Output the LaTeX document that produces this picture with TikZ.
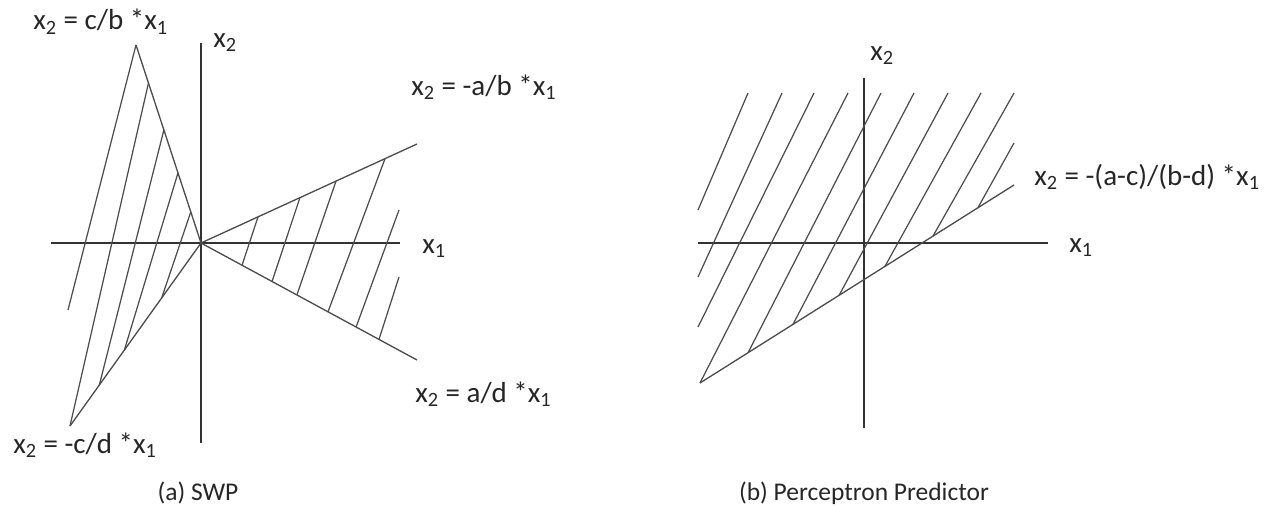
\documentclass[tikz,border=0pt]{standalone}
\usepackage{fontspec}
\setmainfont{Carlito}
\usepackage{xcolor}
\usepackage{tikz}
\usetikzlibrary{calc}
\tikzstyle{axis} = [draw=black!80, line width=0.75pt]
\tikzstyle{bound} = [draw=black!70, line width=0.75pt]
\tikzstyle{hatch} = [draw=black!70, line width=0.7pt]
\tikzstyle{lbl} = [anchor=base west, inner sep=0pt, text=black!85, font=\fontsize{16.5}{20}\selectfont]
\tikzstyle{caption} = [anchor=base, inner sep=0pt, text=black!85, font=\fontsize{14.5}{17}\selectfont]
\newcommand{\xv}[1]{x\textsubscript{#1}}

\begin{document}
\begin{tikzpicture}[x=0.02cm, y=-0.02cm]
\useasboundingbox (0,0) rectangle (1271,507);

% (a) SWP
\coordinate (oa) at (201,243);
\coordinate (cb) at (136,45);
\coordinate (ab) at (417,144);
\coordinate (ad) at (417,360);
\coordinate (cd) at (70,426);

\draw [axis] (201,43) -- (201,443);
\draw [axis] (51,243) -- (400,243);
\draw [bound] (oa) -- (cb);
\draw [bound] (oa) -- (ab);
\draw [bound] (oa) -- (ad);
\draw [bound] (oa) -- (cd);

\draw [hatch] (cb) -- (68,310);
\draw [hatch] ($(oa)!0.808!(cb)$) -- (cd);
\draw [hatch] ($(oa)!0.571!(cb)$) -- ($(oa)!0.776!(cd)$);
\draw [hatch] ($(oa)!0.354!(cb)$) -- ($(oa)!0.585!(cd)$);
\draw [hatch] ($(oa)!0.157!(cb)$) -- ($(oa)!0.30!(cd)$);

\draw [hatch] ($(oa)!0.264!(ab)$) -- ($(oa)!0.19!(ad)$);
\draw [hatch] ($(oa)!0.458!(ab)$) -- ($(oa)!0.329!(ad)$);
\draw [hatch] ($(oa)!0.625!(ab)$) -- ($(oa)!0.444!(ad)$);
\draw [hatch] ($(oa)!0.852!(ab)$) -- ($(oa)!0.588!(ad)$);
\draw [hatch] (399,210) -- ($(oa)!0.718!(ad)$);
\draw [hatch] (399,277) -- ($(oa)!0.824!(ad)$);

\node (lcb) [lbl] at (33,30) {\xv{2} = c/b *\xv{1}};
\node (lx2a) [lbl] at (213,47) {\xv{2}};
\node (lab) [lbl] at (411,95) {\xv{2} = -a/b *\xv{1}};
\node (lx1a) [lbl] at (422,253) {\xv{1}};
\node (lad) [lbl] at (415,402) {\xv{2} = a/d *\xv{1}};
\node (lcd) [lbl] at (13,453) {\xv{2} = -c/d *\xv{1}};
\node (capa) [caption] at (198,500) {(a) SWP};

% (b) Perceptron Predictor
\coordinate (ob) at (864,243);
\coordinate (bl) at (700,383);
\coordinate (br) at (1014,185);

\draw [axis] (864,78) -- (864,428);
\draw [axis] (698,243) -- (1048,243);
\draw [bound] (bl) -- (br);

\draw [hatch] (748,93) -- (698,210);
\draw [hatch] (782,93) -- (698,277);
\draw [hatch] (814,93) -- (698,327);
\draw [hatch] (848,93) -- (bl);
\draw [hatch] (881,93) -- ($(bl)!0.153!(br)$);
\draw [hatch] (914,93) -- ($(bl)!0.296!(br)$);
\draw [hatch] (948,93) -- ($(bl)!0.443!(br)$);
\draw [hatch] (981,93) -- ($(bl)!0.589!(br)$);
\draw [hatch] (1014,93) -- ($(bl)!0.742!(br)$);
\draw [hatch] (1014,143) -- ($(bl)!0.885!(br)$);

\node (lx2b) [lbl] at (870,60) {\xv{2}};
\node (lacbd) [lbl] at (1034,185) {\xv{2} = -(a-c)/(b-d) *\xv{1}};
\node (lx1b) [lbl] at (1069,252) {\xv{1}};
\node (capb) [caption] at (864,500) {(b) Perceptron Predictor};
\end{tikzpicture}
\end{document}
